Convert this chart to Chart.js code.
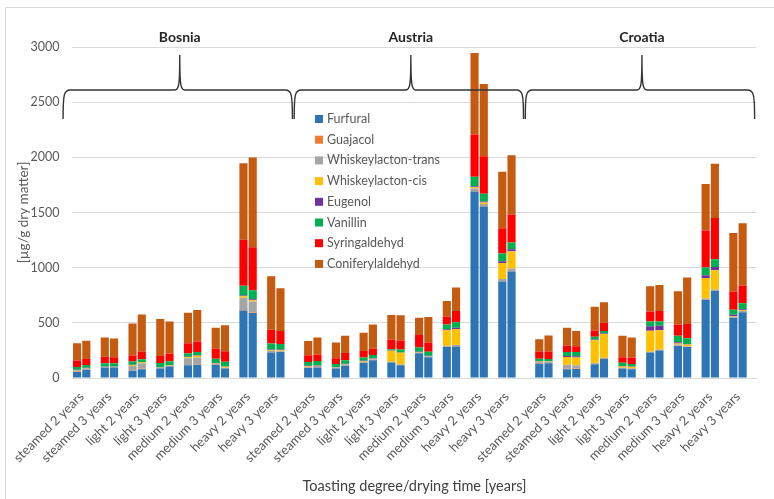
<!DOCTYPE html>
<html>
<head>
<meta charset="utf-8">
<script src="https://cdn.jsdelivr.net/npm/chart.js@4.4.1/dist/chart.umd.min.js"></script>
<style>
  html, body { margin: 0; padding: 0; background: #fff; }
  canvas { display: block; }
</style>
</head>
<body>
<canvas id="chart" width="774" height="499"></canvas>
<script>
const groups = ['Bosnia', 'Austria', 'Croatia'];
const categories = ['steamed 2 years', 'steamed 3 years', 'light 2 years', 'light 3 years',
                    'medium 2 years', 'medium 3 years', 'heavy 2 years', 'heavy 3 years'];
const components = ['Furfural', 'Guajacol', 'Whiskeylacton-trans', 'Whiskeylacton-cis',
                    'Eugenol', 'Vanillin', 'Syringaldehyd', 'Coniferylaldehyd'];
const colors = ['#2e75b6', '#ed7d31', '#a5a5a5', '#ffc000', '#7030a0', '#00b050', '#ff0000', '#c55a11'];
const yTicks = [0, 500, 1000, 1500, 2000, 2500, 3000];

// two bars per category, Bosnia / Austria / Croatia, in µg/g dry matter
const furfural = [55,75, 95,95, 65,80, 85,105, 115,118, 120,85, 612,588, 230,235,
                  90,95, 85,112, 135,160, 140,115, 225,188, 280,285, 1690,1555, 875,965,
                  130,133, 80,82, 125,175, 85,80, 230,250, 290,280, 710,790, 545,595];
const guajacol = [3,3, 2,2, 3,3, 2,2, 3,3, 2,2, 5,5, 3,3,
                  3,3, 2,2, 3,3, 3,3, 3,2, 3,3, 3,3, 3,3,
                  3,3, 3,3, 3,3, 3,3, 3,3, 3,3, 3,3, 3,3];
const whiskeyTrans = [10,8, 4,4, 40,50, 5,5, 60,65, 5,5, 110,100, 15,10,
                      10,10, 8,8, 10,8, 5,5, 5,5, 10,12, 25,20, 20,25,
                      15,12, 37,30, 5,5, 5,5, 5,5, 10,5, 8,8, 10,10];
const whiskeyCis = [3,3, 2,2, 8,10, 3,3, 10,15, 5,10, 15,12, 5,5,
                    3,3, 2,3, 3,3, 100,105, 3,3, 140,145, 10,12, 145,155,
                    3,3, 70,70, 210,215, 12,15, 190,175, 10,15, 185,175, 5,5];
const eugenol = [3,3, 2,2, 3,3, 2,2, 5,5, 3,3, 5,8, 5,5,
                 5,5, 3,5, 5,5, 3,3, 3,3, 8,10, 10,10, 15,20,
                 3,3, 10,12, 5,5, 3,3, 40,40, 10,5, 25,30, 10,10];
const vanillin = [25,25, 28,28, 30,25, 40,35, 28,30, 40,42, 88,82, 55,50,
                  35,38, 28,32, 30,30, 10,28, 38,37, 45,50, 85,70, 70,60,
                  20,18, 35,38, 25,22, 30,22, 45,40, 60,52, 70,70, 45,55];
const syringaldehyd = [60,55, 60,54, 55,70, 63,70, 95,95, 90,95, 418,389, 124,118,
                       60,58, 50,65, 58,57, 85,80, 112,84, 70,102, 383,340, 230,255,
                       66,68, 60,52, 57,75, 50,55, 90,94, 102,130, 335,375, 165,160];
const coniferylaldehyd = [155,165, 175,171, 289,335, 335,290, 275,285, 190,236, 693,814, 485,388,
                          130,155, 144,155, 166,220, 226,230, 156,232, 142,213, 740,655, 512,535,
                          112,145, 160,140, 215,187, 195,185, 228,235, 301,420, 422,490, 532,565];
const series = [furfural, guajacol, whiskeyTrans, whiskeyCis, eugenol, vanillin, syringaldehyd, coniferylaldehyd];

// category slots: bar, bar, gap for every pair, and one more gap between the origins
const slotLabels = [];
const slotIndex = [];
groups.forEach((g, gi) => {
    categories.forEach(cat => {
        slotIndex.push(slotLabels.length, slotLabels.length + 1);
        slotLabels.push(cat, '', '');
    });
    if (gi < groups.length - 1) slotLabels.push('');
});

function toSlots(values) {
    const out = slotLabels.map(() => null);
    values.forEach((v, i) => { out[slotIndex[i]] = v; });
    return out;
}

const decor = {
    id: 'decor',
    beforeDraw(chart) {
        const ctx = chart.ctx;
        ctx.save();
        ctx.strokeStyle = '#d9d9d9';
        ctx.lineWidth = 1;
        ctx.beginPath();
        ctx.moveTo(5.5, chart.height);
        ctx.lineTo(5.5, 7.5);
        ctx.lineTo(chart.width, 7.5);
        ctx.stroke();
        ctx.restore();
    },
    afterDraw(chart) {
        const {ctx, chartArea} = chart;
        const x = chart.scales.x;
        const per = categories.length * 2;
        const hY = chartArea.top + 43, tipY = chartArea.top + 72, peakY = chartArea.top + 8;
        ctx.save();
        groups.forEach((name, gi) => {
            const first = x.getPixelForValue(slotIndex[gi * per]);
            const last = x.getPixelForValue(slotIndex[(gi + 1) * per - 1]);
            const L = first - 14, R = last + 12, C = (first + last) / 2 + 1;
            ctx.strokeStyle = '#333';
            ctx.lineWidth = 1.4;
            ctx.beginPath();
            ctx.moveTo(L, tipY);
            ctx.bezierCurveTo(L, hY + 4, L + 1, hY, L + 7, hY);
            ctx.lineTo(C - 5, hY);
            ctx.bezierCurveTo(C - 1, hY, C, hY - 4, C, peakY);
            ctx.bezierCurveTo(C, hY - 4, C + 1, hY, C + 5, hY);
            ctx.lineTo(R - 7, hY);
            ctx.bezierCurveTo(R - 1, hY, R, hY + 4, R, tipY);
            ctx.stroke();
            ctx.fillStyle = '#262626';
            ctx.font = 'bold 14px Lato';
            ctx.textAlign = 'center';
            ctx.textBaseline = 'middle';
            ctx.fillText(name, C, chartArea.top - 10);
        });
        // legend inside the plot
        ctx.font = '12.5px Lato';
        ctx.textAlign = 'left';
        ctx.textBaseline = 'middle';
        chart.data.datasets.forEach((ds, i) => {
            const y = 119 + i * 20.7;
            ctx.fillStyle = ds.backgroundColor;
            ctx.fillRect(315, y - 4, 8, 8);
            ctx.fillStyle = '#595959';
            ctx.fillText(ds.label, 327, y);
        });
        ctx.restore();
    }
};

Chart.defaults.font.family = 'Lato';

new Chart(document.getElementById('chart'), {
    type: 'bar',
    data: {
        labels: slotLabels,
        datasets: components.map((name, i) => ({
            label: name,
            data: toSlots(series[i]),
            backgroundColor: colors[i],
            borderWidth: 0,
            barPercentage: 0.88,
            categoryPercentage: 1
        }))
    },
    options: {
        responsive: false,
        animation: false,
        devicePixelRatio: 1,
        layout: { padding: { top: 47, right: 15, left: 0, bottom: 0 } },
        plugins: { legend: { display: false }, tooltip: { enabled: false } },
        scales: {
            x: {
                stacked: true,
                grid: { display: false, drawTicks: false },
                border: { color: '#d9d9d9' },
                ticks: {
                    autoSkip: false, minRotation: 45, maxRotation: 45,
                    labelOffset: 4.6, padding: 11, color: '#595959', font: { size: 13 }
                },
                title: {
                    display: true, text: 'Toasting degree/drying time [years]',
                    color: '#404040', font: { size: 14.5 }, padding: { top: 4, bottom: 4 }
                },
                afterFit(scale) { scale.height = 121; }
            },
            y: {
                stacked: true,
                min: yTicks[0],
                max: yTicks[yTicks.length - 1],
                afterBuildTicks(scale) { scale.ticks = yTicks.map(v => ({ value: v })); },
                ticks: { padding: 13, color: '#595959', font: { size: 12.5 }, callback: v => String(v) },
                grid: { color: '#d9d9d9', drawTicks: false },
                border: { display: false },
                title: {
                    display: true, text: '[µg/g dry matter]',
                    color: '#595959', font: { size: 13.5 }, padding: { top: 15, bottom: 0 }
                },
                afterFit(scale) { scale.width = 72; }
            }
        }
    },
    plugins: [decor]
});
</script>
</body>
</html>
